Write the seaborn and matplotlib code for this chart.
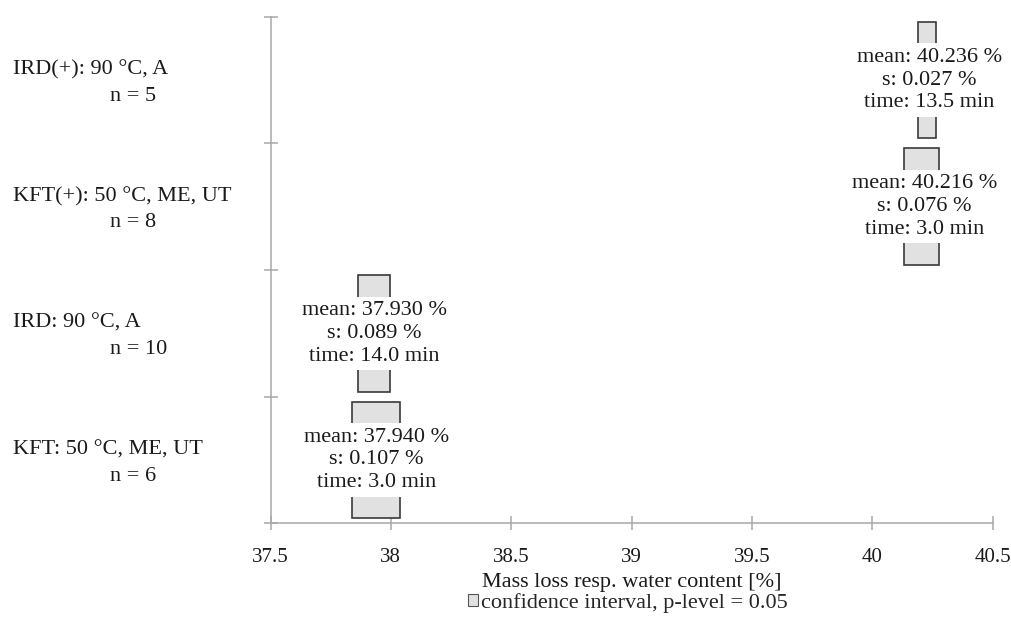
import matplotlib.pyplot as plt
import matplotlib.patches as mpatches
import matplotlib.transforms as mtransforms
import pandas as pd
import seaborn as sns

# groups, top to bottom
methods = ["IRD(+): 90 °C, A", "KFT(+): 50 °C, ME, UT", "IRD: 90 °C, A", "KFT: 50 °C, ME, UT"]
n_values = [5, 8, 10, 6]
means = [40.236, 40.216, 37.930, 37.940]
sds = [0.027, 0.076, 0.089, 0.107]
times = [13.5, 3.0, 14.0, 3.0]
# confidence interval limits
ci_low = [40.190, 40.131, 37.865, 37.840]
ci_high = [40.263, 40.276, 37.996, 38.040]
x_ticks = [37.5, 38, 38.5, 39, 39.5, 40, 40.5]

df = pd.DataFrame({
    "method": methods,
    "n": n_values,
    "mean": means,
    "s": sds,
    "time": times,
    "low": ci_low,
    "high": ci_high,
})
df["pos"] = len(df) - 1 - df.index + 0.5

sns.set_style("white")
plt.rcParams["font.family"] = ["Liberation Serif", "DejaVu Serif"]
plt.rcParams["font.size"] = 16

fig = plt.figure(figsize=(10.12, 6.19), dpi=100)
ax = fig.add_axes([0.2673, 0.1546, 0.7136, 0.8184])

box_fill = "#e1e1e1"
box_edge = "#3a3a3a"
axis_col = "#a8a8a8"
text_col = "#1a1a1a"

ax.barh(df["pos"], df["high"] - df["low"], left=df["low"], height=0.92,
        color=box_fill, edgecolor=box_edge, linewidth=1.2, zorder=2)

for _, row in df.iterrows():
    txt = f"mean: {row['mean']:.3f} %\ns: {row['s']:.3f} %\ntime: {row['time']:.1f} min"
    ax.text(row["mean"], row["pos"], txt, ha="center", va="center",
            fontsize=16, linespacing=1.27, color=text_col, zorder=4,
            bbox=dict(boxstyle="square,pad=0.2", fc="white", ec="none"))

# group labels left of the axis
trans = mtransforms.blended_transform_factory(fig.transFigure, ax.transData)
for _, row in df.iterrows():
    ax.text(12.7 / 1012, row["pos"] + 0.044, row["method"], transform=trans,
            ha="left", va="baseline", fontsize=16, color=text_col)
    ax.text(110 / 1012, row["pos"] - 0.163, f"n = {row['n']}", transform=trans,
            ha="left", va="baseline", fontsize=16, color=text_col)

ax.set_xlim(37.5, 40.5)
ax.set_ylim(0, len(df))
ax.set_xticks(x_ticks)
ax.set_xticklabels([f"{t:g}" for t in x_ticks])
ax.set_yticks(range(len(df) + 1))
ax.set_yticklabels([])

sns.despine(ax=ax, top=True, right=True)
for side in ["left", "bottom"]:
    ax.spines[side].set_color(axis_col)
    ax.spines[side].set_linewidth(1.1)
ax.tick_params(axis="both", direction="inout", length=10, width=1.1,
               color=axis_col, labelsize=15, labelcolor=text_col,
               bottom=True, left=True)
ax.tick_params(axis="x", pad=13)

ax.set_xlabel("Mass loss resp. water content [%]", fontsize=16, labelpad=4, color=text_col)

handle = mpatches.Patch(facecolor=box_fill, edgecolor="#555555", linewidth=0.8,
                        label="confidence interval, p-level = 0.05")
fig.legend(handles=[handle], loc="center", bbox_to_anchor=(628 / 1012, 1 - 603 / 619),
           frameon=False, fontsize=16, handlelength=0.45, handleheight=0.45,
           handletextpad=0.15, borderpad=0, borderaxespad=0)

fig.savefig("out.png", dpi=100, facecolor="white")
